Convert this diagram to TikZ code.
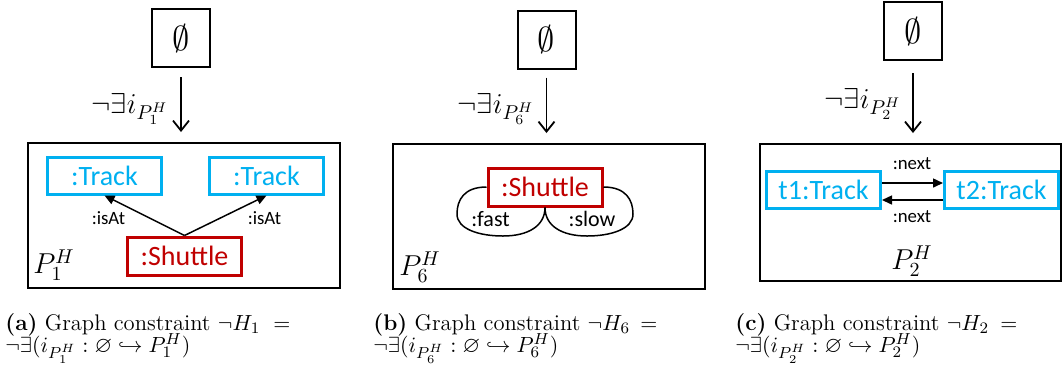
\documentclass[tikz,border=0pt]{standalone}
\usepackage{amssymb}
\usepackage{fontspec}
\newfontfamily\carl{Carlito}
\usetikzlibrary{arrows.meta}
\definecolor{tblue}{RGB}{0,176,240}
\definecolor{tred}{RGB}{192,0,0}
\begin{document}
\begin{tikzpicture}[x=0.5pt,y=-0.5pt,
  box/.style={draw=black,line width=1pt,inner sep=0pt},
  esbox/.style={box,minimum width=29pt,minimum height=29pt,font=\fontsize{17}{19}\selectfont},
  blu/.style={draw=tblue,line width=1.5pt,inner sep=0pt,text=tblue,font=\carl\fontsize{14}{16}\selectfont,minimum width=57pt,minimum height=18.5pt},
  shut/.style={draw=tred,line width=1.5pt,inner sep=0pt,text=tred,font=\carl\fontsize{14}{16}\selectfont,minimum width=57pt,minimum height=19pt},
  map/.style={-{Straight Barb[length=5pt,width=8pt]},line width=0.9pt},
  edg/.style={-{Triangle[length=5pt,width=4.5pt]},line width=0.75pt},
  lab/.style={font=\carl\fontsize{9.4}{10}\selectfont,inner sep=0pt},
  loopl/.style={font=\carl\fontsize{11}{12}\selectfont,inner sep=0pt},
  mlab/.style={font=\fontsize{14}{16}\selectfont,inner sep=0pt},
  capt/.style={anchor=base west,inner sep=0pt,font=\fontsize{11.3}{11}\selectfont}
]
\useasboundingbox (0,0) rectangle (1062,372);

% ---------- panel (a)
\node[esbox] (ea) at (181,38) {$\emptyset$};
\node[box,minimum width=156pt,minimum height=72.5pt] (pa) at (184,215.5) {};
\draw[map] ([yshift=-4.5pt]ea.south) -- ([yshift=5pt]ea.south |- pa.north);
\node[mlab] (la) at (130,109) {$\neg\exists i_{P_1^H}$};
\node[blu] (tla) at (104.5,175.5) {:Track};
\node[blu] (tra) at (266.5,175.5) {:Track};
\node[shut] (sa) at (184.5,256) {:Shuttle};
\draw[edg] (sa.north) -- (tla.south);
\draw[edg] (sa.north) -- (tra.south);
\node[lab] (ia1) at (108.5,218) {:isAt};
\node[lab] (ia2) at (264.5,218) {:isAt};
\node[mlab] (pla) at (54,265) {$P_1^H$};

% ---------- panel (b)
\node[esbox] (eb) at (546.5,39.5) {$\emptyset$};
\node[box,minimum width=156pt,minimum height=72.5pt] (pb) at (549,216.5) {};
\draw[map] ([yshift=-4pt]eb.south) -- ([yshift=5pt]eb.south |- pb.north);
\node[mlab] (lb) at (496,109) {$\neg\exists i_{P_6^H}$};
\node[shut] (sb) at (545,187) {:Shuttle};
\draw[line width=0.75pt] (sb.west) .. controls (464,187) and (457,200) .. (457,214)
  .. controls (457,229) and (479,236) .. (503,236) .. controls (528,236) and (545,226) .. (sb.south);
\draw[line width=0.75pt] (sb.east) .. controls (626,187) and (633,200) .. (633,214)
  .. controls (633,229) and (611,236) .. (587,236) .. controls (562,236) and (545,226) .. (sb.south);
\node[loopl] (fa) at (490.5,219) {:fast};
\node[loopl] (sl) at (592,219) {:slow};
\node[mlab] (plb) at (420,267) {$P_6^H$};

% ---------- panel (c)
\node[esbox] (ec) at (913,31) {$\emptyset$};
\node[box,minimum width=150.5pt,minimum height=68.5pt] (pc) at (910.5,212.5) {};
\draw[map] ([yshift=-6pt]ec.south) -- ([yshift=5pt]ec.south |- pc.north);
\node[mlab] (lc) at (863,104) {$\neg\exists i_{P_2^H}$};
\node[blu] (t1) at (823.5,190) {t1:Track};
\node[blu] (t2) at (1001.5,190) {t2:Track};
\draw[edg] ([yshift=3.5pt]t1.east) -- ([yshift=3.5pt]t2.west);
\draw[edg] ([yshift=-5pt]t2.west) -- ([yshift=-5pt]t1.east);
\node[lab] (n1) at (912,164) {:next};
\node[lab] (n2) at (912,217) {:next};
\node[mlab] (plc) at (912,261) {$P_2^H$};

% ---------- captions
\node[capt] (ca1) at (5,330) {\makebox[142.5pt][l]{\textbf{(a)} Graph constraint $\neg H_1$\hfill$=$}};
\node[capt] (ca2) at (5,352) {$\neg\exists(i_{P_1^H}:\varnothing\hookrightarrow P_1^H)$};
\node[capt] (cb1) at (373,330) {\makebox[142pt][l]{\textbf{(b)} Graph constraint $\neg H_6$\hfill$=$}};
\node[capt] (cb2) at (373,352) {$\neg\exists(i_{P_6^H}:\varnothing\hookrightarrow P_6^H)$};
\node[capt] (cc1) at (735,330) {\makebox[141pt][l]{\textbf{(c)} Graph constraint $\neg H_2$\hfill$=$}};
\node[capt] (cc2) at (735,352) {$\neg\exists(i_{P_2^H}:\varnothing\hookrightarrow P_2^H)$};
\end{tikzpicture}
\end{document}
